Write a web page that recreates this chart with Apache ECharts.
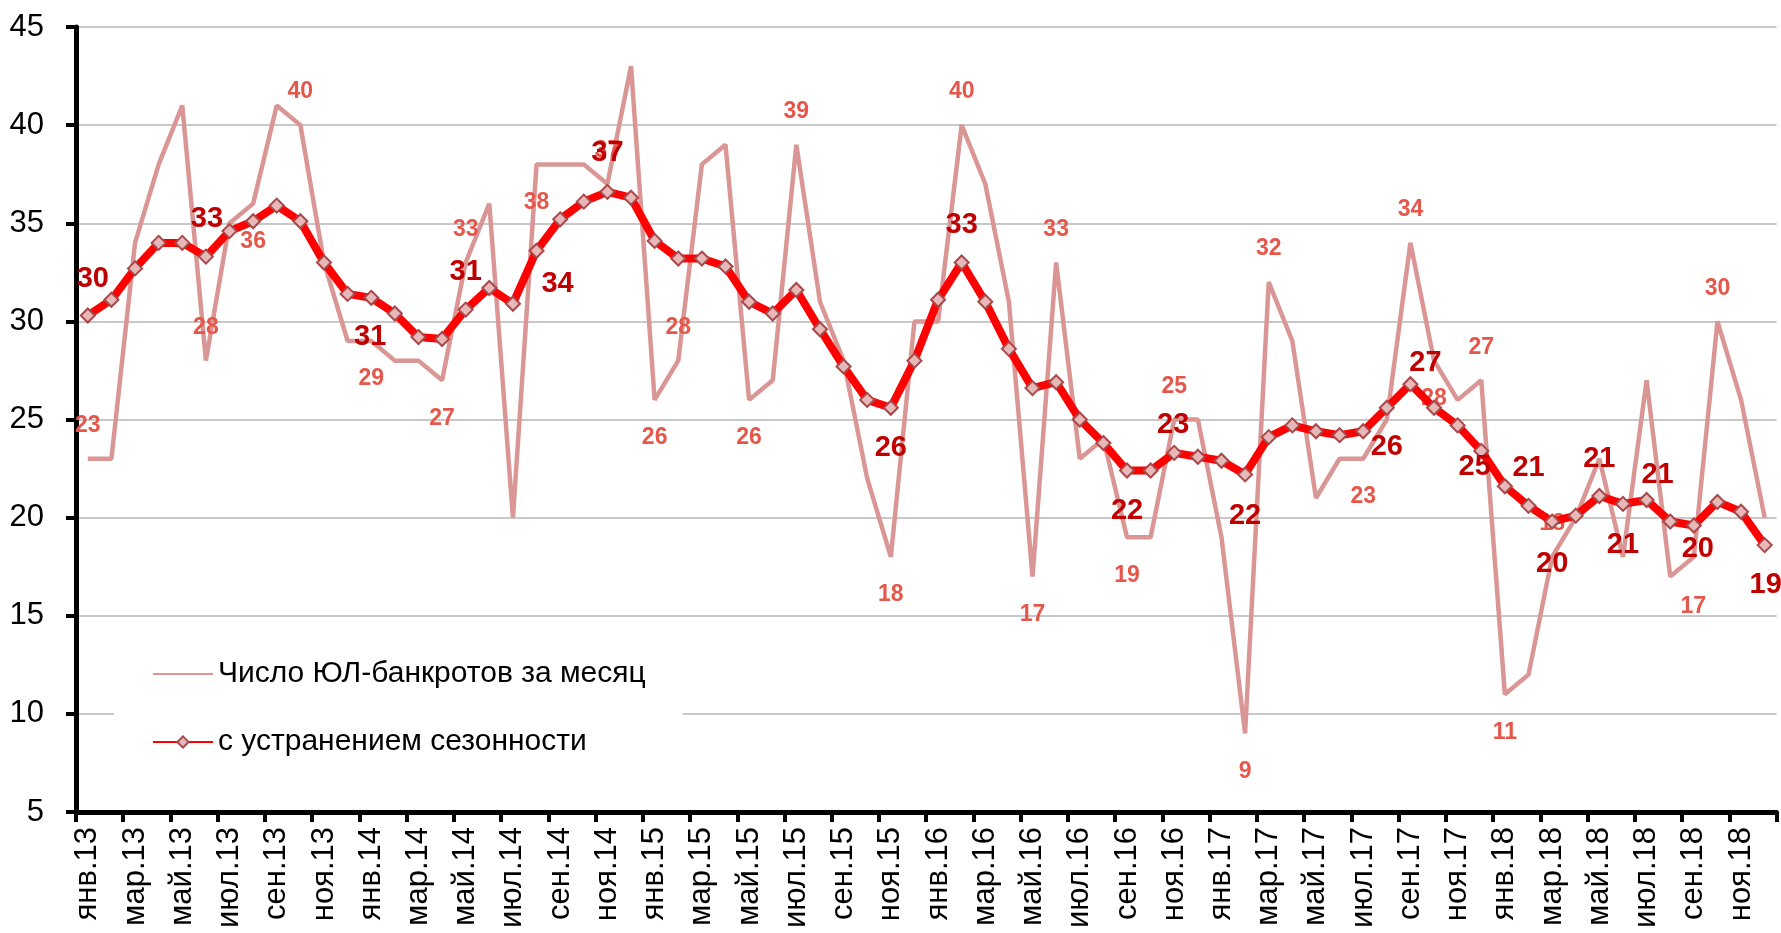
<!DOCTYPE html>
<html><head><meta charset="utf-8">
<script src="https://cdn.jsdelivr.net/npm/echarts@6/dist/echarts.min.js"></script>
<style>html,body{margin:0;padding:0;background:#fff}#c{width:1781px;height:933px}</style>
</head><body><div id="c"></div><script>
const months = ['янв','фев','мар','апр','май','июн','июл','авг','сен','окт','ноя','дек'];
const years = ['13','14','15','16','17','18'];
const categories = [];
years.forEach(y => months.forEach(m => categories.push(m + '.' + y)));

const rawName = 'Число ЮЛ-банкротов за месяц';
const saName = 'с устранением сезонности';

const rawValues = [
  23,23,34,38,41,28,35,36,41,40,33,29,
  29,28,28,27,33,36,20,38,38,38,37,43,
  26,28,38,39,26,27,39,31,28,22,18,30,
  30,40,37,31,17,33,23,24,19,19,25,25,
  19,9,32,29,21,23,23,25,34,28,26,27,
  11,12,18,20,23,18,27,17,18,30,26,20
];
const saValues = [
  30.3,31.1,32.7,34.0,34.0,33.3,34.6,35.1,35.9,35.1,33.0,31.4,
  31.2,30.4,29.2,29.1,30.6,31.7,30.9,33.6,35.2,36.1,36.6,36.3,
  34.1,33.2,33.2,32.8,31.0,30.4,31.6,29.6,27.7,26.0,25.6,28.0,
  31.1,33.0,31.0,28.6,26.6,26.9,25.0,23.8,22.4,22.4,23.3,23.1,
  22.9,22.2,24.1,24.7,24.4,24.2,24.4,25.6,26.8,25.6,24.7,23.4,
  21.6,20.6,19.8,20.1,21.1,20.7,20.9,19.8,19.6,20.8,20.3,18.6
];

// which points carry a value label (label placement only)
const rawLabelUp = [0,5,9,16,22,25,30,37,41,46,50,56,59,62,69];
const rawLabelDown = [7,12,15,19,24,28,34,40,44,49,54,57,60];
const rawLabelCustom = {67:[23,30]};
const saLabelOffsets = {
  0:[5,-36], 5:[1,-38], 12:[-1,39], 16:[0,-38], 19:[21,33], 22:[0,-39],
  34:[0,40], 37:[0,-38], 44:[0,40], 46:[-1,-28], 49:[0,42], 55:[0,39],
  56:[15,-21], 58:[17,42], 61:[0,-38], 62:[0,42], 64:[0,-37], 65:[0,41],
  66:[11,-25], 68:[4,24], 71:[1,40]
};

const SANS = '"Liberation Sans", Arial, sans-serif';

function rawLabel(i) {
  if (rawLabelUp.includes(i)) return {show:true, offset:[0,-33]};
  if (rawLabelDown.includes(i)) return {show:true, offset:[0,38]};
  if (rawLabelCustom[i]) return {show:true, offset:rawLabelCustom[i]};
  return {show:false};
}
function saLabel(i) {
  if (saLabelOffsets[i]) return {show:true, offset:saLabelOffsets[i]};
  return {show:false};
}

const chart = echarts.init(document.getElementById('c'), null, {renderer:'canvas'});
chart.setOption({
  animation:false,
  backgroundColor:'#fff',
  grid:{left:76, right:4.5, top:27, bottom:121, containLabel:false},
  legend:{
    orient:'vertical', left:114, top:634,
    padding:[20,37,25,38], backgroundColor:'#fff',
    itemWidth:60, itemHeight:14, itemGap:28,
    selectedMode:false,
    textStyle:{fontFamily:SANS, fontSize:30, color:'#000', lineHeight:40},
    data:[rawName, saName]
  },
  xAxis:{
    type:'category', data:categories, boundaryGap:true,
    axisLine:{lineStyle:{color:'#000', width:5}},
    axisTick:{show:true, interval:1, length:10, lineStyle:{color:'#000', width:4}},
    axisLabel:{interval:1, rotate:90, fontFamily:SANS, fontSize:31, color:'#000', margin:15},
    splitLine:{show:false}
  },
  yAxis:{
    type:'value', min:5, max:45, interval:5,
    axisLine:{show:true, lineStyle:{color:'#000', width:5}},
    axisTick:{show:true, length:10, lineStyle:{color:'#000', width:4}},
    axisLabel:{fontFamily:SANS, fontSize:31, color:'#000', margin:32},
    splitLine:{lineStyle:{color:'#c8c8c8', width:2}}
  },
  series:[
    {
      type:'line', name:rawName,
      data:rawValues.map((v,i)=>({value:v, label:rawLabel(i)})),
      symbol:'circle', symbolSize:2, showSymbol:true,
      itemStyle:{color:'rgba(0,0,0,0)'},
      lineStyle:{color:'#d99694', width:4.5},
      z:2, emphasis:{disabled:true},
      label:{show:false, position:'inside', color:'#e5574b', fontFamily:SANS, fontWeight:'bold', fontSize:23,
        formatter:p=>String(Math.round(p.value))}
    },
    {
      type:'line', name:saName,
      data:saValues.map((v,i)=>({value:v, label:saLabel(i)})),
      symbol:'diamond', symbolSize:[14,14], showSymbol:true,
      itemStyle:{color:'#e6b9b8', borderColor:'#a9474a', borderWidth:2},
      lineStyle:{color:'#ff0000', width:8},
      z:3, emphasis:{disabled:true},
      label:{show:false, position:'inside', color:'#c00000', fontFamily:SANS, fontWeight:'bold', fontSize:29,
        formatter:p=>String(Math.round(p.value))}
    }
  ]
});
</script></body></html>
